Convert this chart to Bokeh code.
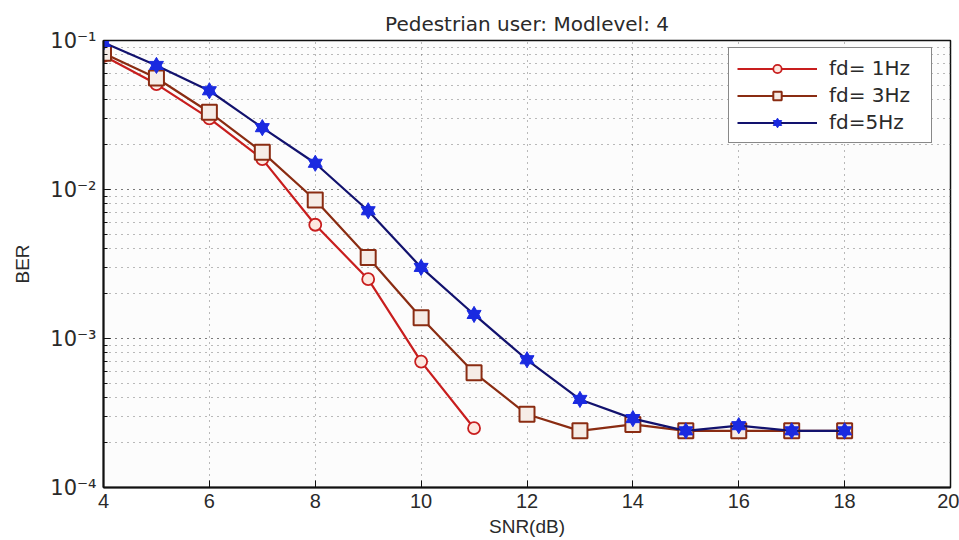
from bokeh.plotting import figure
from bokeh.embed import file_html
from bokeh.resources import INLINE
from bokeh.models import (Range1d, LogTicker, FixedTicker, CustomJSTickFormatter,
                          Legend, LegendItem)

snr = [4, 5, 6, 7, 8, 9, 10, 11, 12, 13, 14, 15, 16, 17, 18]

snr_1hz = [4, 5, 6, 7, 8, 9, 10, 11]
ber_1hz = [0.079, 0.051, 0.030, 0.016, 0.0058, 0.0025, 0.0007, 0.00025]

ber_3hz = [0.082, 0.056, 0.033, 0.0178, 0.0085, 0.0035, 0.00138, 0.00059,
           0.00031, 0.00024, 0.000265, 0.00024, 0.00024, 0.00024, 0.00024]

ber_5hz = [0.097, 0.068, 0.046, 0.026, 0.015, 0.0072, 0.0030, 0.00145,
           0.00072, 0.00039, 0.00029, 0.00024, 0.00026, 0.00024, 0.00024]

x_ticks = [4, 6, 8, 10, 12, 14, 16, 18, 20]
y_ticks = [1e-4, 1e-3, 1e-2, 1e-1]

title_text = "Pedestrian user: Modlevel: 4"
labels = ["fd= 1Hz", "fd= 3Hz", "fd=5Hz"]

FONT = "Liberation Sans"
WIDE = "DejaVu Sans"
TXT = "#2a2a2a"

p = figure(width=959, height=540, y_axis_type="log",
           x_range=Range1d(4, 20), y_range=Range1d(1e-4, 1e-1),
           output_backend="svg", toolbar_location=None,
           title=title_text,
           min_border_left=103, min_border_right=9,
           min_border_top=40, min_border_bottom=53)

p.title.align = "center"
p.title.text_font = WIDE
p.title.text_font_size = "20px"
p.title.text_font_style = "normal"
p.title.text_color = TXT
p.title.offset = 0
p.title.standoff = 10

p.outline_line_color = "#111111"
p.outline_line_width = 1.5
p.background_fill_color = "#fcfcfc"
p.border_fill_color = "white"

# axes
p.xaxis.ticker = FixedTicker(ticks=x_ticks)
p.yaxis.ticker = LogTicker(num_minor_ticks=10)
p.yaxis.formatter = CustomJSTickFormatter(code="""
const e = Math.round(Math.log10(tick));
const sup = {'-':'\u207b','0':'\u2070','1':'\u00b9','2':'\u00b2','3':'\u00b3','4':'\u2074'};
return '10' + String(e).split('').map(c => sup[c]).join('');
""")
for ax in (p.xaxis[0], p.yaxis[0]):
    ax.axis_line_color = "#111111"
    ax.axis_line_width = 2
    ax.major_tick_in = 7
    ax.major_tick_out = 0
    ax.minor_tick_in = 4
    ax.minor_tick_out = 0
    ax.major_tick_line_color = "#111111"
    ax.minor_tick_line_color = "#111111"
    ax.major_label_text_font = FONT
    ax.major_label_text_font_size = "20px"
    ax.major_label_text_color = TXT
    ax.axis_label_text_font = FONT
    ax.axis_label_text_font_size = "19px"
    ax.axis_label_text_font_style = "normal"
    ax.axis_label_text_color = TXT

p.yaxis.major_label_text_font = WIDE
p.yaxis.major_label_text_font_size = "21px"

p.xaxis.axis_label = "SNR(dB)"
p.xaxis.major_label_standoff = 6
p.xaxis.axis_label_standoff = 5
p.yaxis.axis_label = "BER"
p.yaxis.major_label_standoff = 7
p.yaxis.axis_label_standoff = 14

# grids, MATLAB-like dotted
p.xgrid.ticker = FixedTicker(ticks=x_ticks)
p.xgrid.grid_line_color = "#555555"
p.xgrid.grid_line_dash = "1 5"
p.xgrid.grid_line_alpha = 0.8
p.ygrid.grid_line_color = "#555555"
p.ygrid.grid_line_dash = "1 5"
p.ygrid.grid_line_alpha = 0.8
p.ygrid.minor_grid_line_color = "#555555"
p.ygrid.minor_grid_line_dash = "1 5"
p.ygrid.minor_grid_line_alpha = 0.8

# series
red = "#c81e1e"
brown = "#8a2c12"
navy = "#12126e"
blue = "#1a2ae0"

l1 = p.line(snr_1hz, ber_1hz, line_color=red, line_width=2.2)
m1 = p.scatter(snr_1hz, ber_1hz, marker="circle", size=12, line_color=red,
               line_width=1.8, fill_color="#fde8e0")

l2 = p.line(snr, ber_3hz, line_color=brown, line_width=2.2)
m2 = p.scatter(snr, ber_3hz, marker="square", size=15, line_color=brown,
               line_width=2, fill_color="#f6ece6")

l3 = p.line(snr, ber_5hz, line_color=navy, line_width=2.2)
m3a = p.scatter(snr, ber_5hz, marker="triangle", size=14, line_color=blue,
                fill_color=blue, line_width=1)
m3b = p.scatter(snr, ber_5hz, marker="inverted_triangle", size=14, line_color=blue,
                fill_color=blue, line_width=1)

legend = Legend(items=[
    LegendItem(label=labels[0], renderers=[l1, m1]),
    LegendItem(label=labels[1], renderers=[l2, m2]),
    LegendItem(label=labels[2], renderers=[l3, m3a, m3b]),
], location=(625, 344))
legend.label_text_font = WIDE
legend.label_text_font_size = "20px"
legend.label_text_color = TXT
legend.glyph_width = 80
legend.glyph_height = 21
legend.label_standoff = 12
legend.spacing = 3
legend.padding = 8
legend.border_line_color = "#111111"
legend.border_line_width = 1.5
legend.background_fill_color = "white"
legend.background_fill_alpha = 1.0
legend.label_height = 21
legend.label_width = 94
p.add_layout(legend)

open("out.html", "w").write(file_html(p, INLINE))
